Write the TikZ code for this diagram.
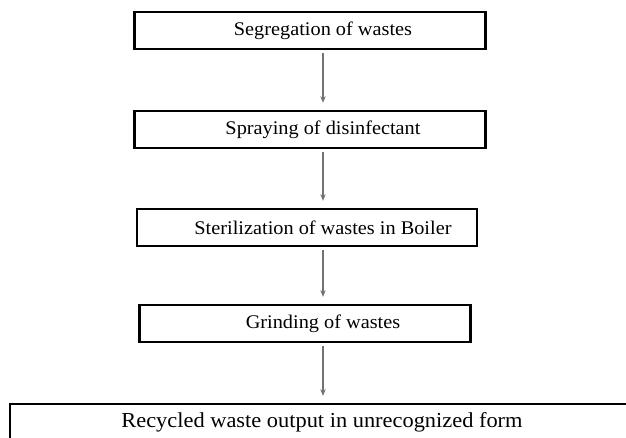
\documentclass[tikz,border=0pt]{standalone}
\usepackage{fontspec}
\setmainfont{Liberation Serif}[FakeStretch=1.05]
\usetikzlibrary{arrows.meta}

\begin{document}
\begin{tikzpicture}[x=0.75pt,y=-0.75pt]
  %
  \tikzstyle{stage} = [draw=black, line width=2.2pt, minimum height=27.75pt, inner sep=0pt, font=\fontsize{14.5}{17}\selectfont]
  \tikzstyle{flow} = [draw=black!55, line width=0.8pt, -{Stealth[length=5pt,width=4pt]}, shorten <=2pt, shorten >=5pt]
  \tikzset{nudge/.style={execute at begin node={\hspace*{#1}}}}
  \useasboundingbox (0,0) rectangle (626,438);
  \clip (0,0) rectangle (626,438);
  \coordinate (axis) at (323,0);
  \node[stage, nudge=19.5pt, minimum width=263pt] (seg) at (310,30.5) {Segregation of wastes};
  \node[stage, nudge=19.5pt, minimum width=263pt] (spray) at (310,129.5) {Spraying of disinfectant};
  \node[stage, nudge=24pt, minimum width=255pt] (steril) at (307,227.5) {Sterilization of wastes in Boiler};
  \node[stage, nudge=27pt, minimum width=248pt] (grind) at (305,323.5) {Grinding of wastes};
  \node[stage, minimum width=468pt, minimum height=27pt, font=\fontsize{16}{19}\selectfont] (output) at (322,422) {Recycled waste output in unrecognized form};
  \draw[flow] (seg.south -| axis) -- (spray.north -| axis);
  \draw[flow] (spray.south -| axis) -- (steril.north -| axis);
  \draw[flow] (steril.south -| axis) -- (grind.north -| axis);
  \draw[flow] (grind.south -| axis) -- (output.north -| axis);
\end{tikzpicture}
\end{document}
